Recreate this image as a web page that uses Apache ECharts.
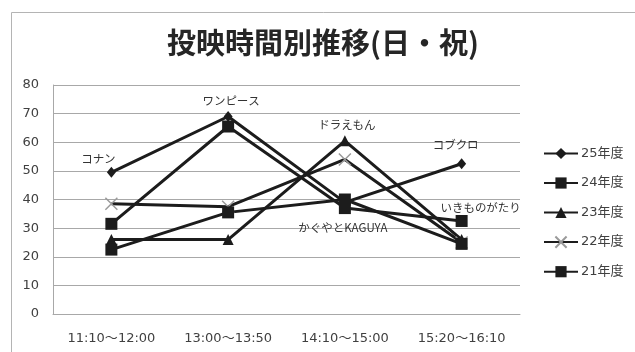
<!DOCTYPE html>
<html>
<head>
<meta charset="utf-8">
<script src="https://cdn.jsdelivr.net/npm/echarts@6/dist/echarts.min.js"></script>
<style>
  html, body { margin: 0; padding: 0; background: #fff; }
  #chart { width: 635px; height: 352px; }
</style>
</head>
<body>
<div id="chart"></div>
<script>
// Time slots on the category axis
const timeSlots = ['11:10〜12:00', '13:00〜13:50', '14:10〜15:00', '15:20〜16:10'];

// Attendance per slot, one array per fiscal year
const fy25 = [49.5, 69, 39, 52.5];
const fy24 = [31.5, 65.5, 37, 32.5];
const fy23 = [26, 26, 60.5, 26];
const fy22 = [38.5, 37.5, 54, 25];
const fy21 = [22.5, 35.5, 40, 24.5];

const seriesNames = ['25年度', '24年度', '23年度', '22年度', '21年度'];

// Programme names written next to individual points
const noteSeries = ['25年度', '25年度', '23年度', '25年度', '24年度', '24年度'];
const noteIndex  = [0, 1, 2, 3, 2, 3];
const noteText   = ['コナン', 'ワンピース', 'ドラえもん', 'コブクロ', 'かぐやとKAGUYA', 'いきものがたり'];

// Where each note sits relative to its point
const noteOffsets = [[-13, -14], [3, -16], [2, -16], [-6, -19], [-2, 20], [19, -13]];

const LINE = '#1c1c1c';
const GRID = '#a8a8a8';
const TEXT = '#404040';
const FONT = '"DejaVu Sans", "Noto Sans CJK JP", sans-serif';

const xMark = 'path://M0,0L10,10M10,0L0,10';

const styles = {
  '25年度': { symbol: 'diamond', symbolSize: [9, 11], item: { color: LINE } },
  '24年度': { symbol: 'rect', symbolSize: 12, item: { color: LINE } },
  '23年度': { symbol: 'triangle', symbolSize: 11, item: { color: LINE } },
  '22年度': { symbol: xMark, symbolSize: 12, item: { color: '#9a9a9a', borderColor: '#9a9a9a', borderWidth: 1.5 } },
  '21年度': { symbol: 'rect', symbolSize: 12, item: { color: LINE } }
};

const valuesByName = {
  '25年度': fy25, '24年度': fy24, '23年度': fy23, '22年度': fy22, '21年度': fy21
};

function buildData(name) {
  return valuesByName[name].map((v, i) => {
    const k = noteSeries.findIndex((s, j) => s === name && noteIndex[j] === i);
    if (k < 0) return v;
    return {
      value: v,
      label: {
        show: true,
        formatter: noteText[k],
        position: 'inside',
        offset: noteOffsets[k],
        color: '#333',
        fontSize: 11.5,
        fontFamily: '"Noto Sans CJK JP", sans-serif'
      }
    };
  });
}

const chart = echarts.init(document.getElementById('chart'), null, { renderer: 'canvas' });

chart.setOption({
  backgroundColor: '#fff',
  animation: false,
  graphic: [
    {
      type: 'rect',
      shape: { x: 11.5, y: 12.5, width: 700, height: 400 },
      style: { fill: 'none', stroke: '#b4b4b4', lineWidth: 1 },
      silent: true
    },
    {
      type: 'text',
      x: 323,
      y: 43,
      style: {
        text: '投映時間別推移(日・祝)',
        fill: '#262626',
        font: 'bold 29px "Noto Sans CJK JP", sans-serif',
        textAlign: 'center',
        textVerticalAlign: 'middle'
      }
    }
  ],
  grid: { left: 53, right: 115, top: 85, bottom: 38 },
  legend: {
    orient: 'vertical',
    left: 543,
    top: 147,
    padding: 0,
    itemWidth: 34,
    itemHeight: 14,
    itemGap: 16.5,
    data: seriesNames,
    textStyle: { color: TEXT, fontSize: 13, fontFamily: FONT, padding: [0, 0, 0, -2] },
    itemStyle: {}
  },
  xAxis: {
    type: 'category',
    data: timeSlots,
    boundaryGap: true,
    axisLine: { lineStyle: { color: GRID, width: 1 } },
    axisTick: { show: false },
    axisLabel: { color: TEXT, fontSize: 13, fontFamily: FONT, margin: 18 }
  },
  yAxis: {
    type: 'value',
    min: 0,
    max: 80,
    interval: 10,
    axisLine: { show: true, lineStyle: { color: GRID, width: 1 } },
    axisTick: { show: false },
    axisLabel: { color: TEXT, fontSize: 13, fontFamily: FONT, margin: 14 },
    splitLine: { lineStyle: { color: GRID, width: 1 } }
  },
  series: seriesNames.map(name => ({
    name: name,
    type: 'line',
    data: buildData(name),
    symbol: styles[name].symbol,
    symbolSize: styles[name].symbolSize,
    showAllSymbol: true,
    lineStyle: { color: LINE, width: 3 },
    itemStyle: styles[name].item,
    emphasis: { disabled: true }
  }))
});
</script>
</body>
</html>
